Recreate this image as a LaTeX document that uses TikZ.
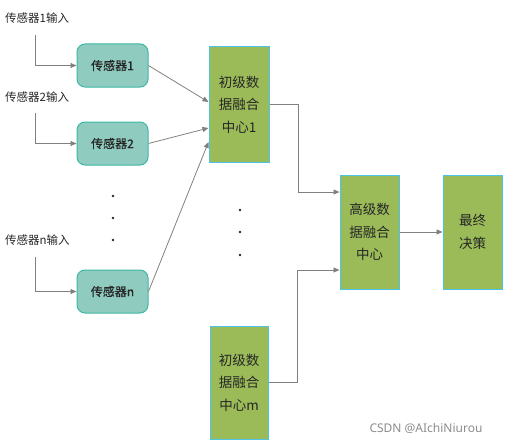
\documentclass[tikz,border=0pt]{standalone}
\usepackage{fontspec}
\setmainfont{Noto Sans CJK SC}
\newfontfamily\semifont[FakeBold=0.6]{Noto Sans CJK SC}
\newfontfamily\wmfont{Noto Sans}
\usetikzlibrary{arrows.meta}
\definecolor{sensfill}{HTML}{8FCBBE}
\definecolor{sensdraw}{HTML}{3DB8A3}
\definecolor{boxfill}{HTML}{9BBB59}
\definecolor{boxdraw}{HTML}{4BC4E8}
\definecolor{linec}{HTML}{808080}
\definecolor{txt}{HTML}{262626}
\begin{document}
\begin{tikzpicture}[x=1pt,y=-1pt,
  sensor/.style={draw=sensdraw, fill=sensfill, line width=1pt, rounded corners=8pt,
    minimum width=71pt, minimum height=43pt, inner sep=0pt, text=txt,
    font=\semifont\fontsize{12}{14}\selectfont},
  fusion/.style={draw=boxdraw, fill=boxfill, line width=1pt, inner sep=0pt, align=center,
    minimum width=59pt, minimum height=114pt, text=txt,
    font=\fontsize{13.5}{22.5}\selectfont},
  inlabel/.style={anchor=west, inner sep=0pt, text=txt, font=\fontsize{11.5}{13}\selectfont},
  conn/.style={draw=linec, line width=0.8pt, -{Triangle[length=6pt,width=5pt]}},
  dot/.style={fill=txt, circle, inner sep=0pt, minimum size=2.6pt}
]
\useasboundingbox (0,0) rectangle (506,444);

% input labels
\node[inlabel] (in1) at (5,18) {传感器1输入};
\node[inlabel] (in2) at (5,97) {传感器2输入};
\node[inlabel] (inn) at (5,240) {传感器n输入};
\coordinate (c1) at (35,35);
\coordinate (c2) at (35,113);
\coordinate (cn) at (35,257);

% sensors
\node[sensor] (s1) at (112.5,65.5) {传感器1};
\node[sensor] (s2) at (112.5,143.5) {传感器2};
\node[sensor] (sn) at (112.5,291.5) {传感器n};

% fusion boxes
\node[fusion, minimum width=60pt, minimum height=115pt] (f1) at (239,104.5) {初级数\\据融合\\中心1};
\node[fusion, minimum width=58pt, minimum height=113pt] (fm) at (239,382.5) {初级数\\据融合\\中心m};
\node[fusion] (hi) at (369.5,232) {高级数\\据融合\\中心};
\node[fusion] (fin) at (472.5,232) {最终\\决策};

% dots
\node[dot] (d1) at (113,196) {};
\node[dot] (d2) at (113,218) {};
\node[dot] (d3) at (113,240) {};
\node[dot] (d4) at (240,210) {};
\node[dot] (d5) at (240,232) {};
\node[dot] (d6) at (240,255) {};

% connectors
\draw[conn] (c1) |- (s1.west);
\draw[conn] (c2) |- (s2.west);
\draw[conn] (cn) |- (sn.west);
\draw[conn] (s1.east) -- ([yshift=2.5pt]f1.west);
\draw[conn] (s2.east) -- ([yshift=-23.5pt]f1.west);
\draw[conn] (sn.east) -- ([yshift=-37.5pt]f1.west);
\draw[conn] (f1.east) -- ++(29,0) |- ([yshift=40pt]hi.west);
\draw[conn] (fm.east) -- ++(29,0) |- ([yshift=-38pt]hi.west);
\draw[conn] (hi.east) -- (fin.west);

% watermark
\node[anchor=center, inner sep=0pt, text=black!45, font=\wmfont\fontsize{12}{14}\selectfont] (wm) at (426,428) {CSDN @AIchiNiurou};
\end{tikzpicture}
\end{document}
